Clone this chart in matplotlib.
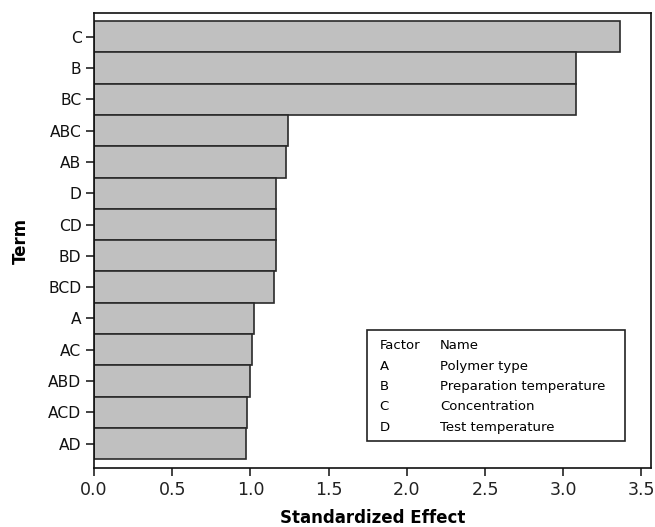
import matplotlib
matplotlib.use("Agg")
import matplotlib.pyplot as plt
from matplotlib.patches import Rectangle

terms = ["C", "B", "BC", "ABC", "AB", "D", "CD", "BD", "BCD", "A", "AC", "ABD", "ACD", "AD"]
effects = [3.363, 3.08, 3.08, 1.242, 1.228, 1.162, 1.162, 1.162, 1.153, 1.025, 1.012, 0.999, 0.978, 0.970]
x_ticks = [0.0, 0.5, 1.0, 1.5, 2.0, 2.5, 3.0, 3.5]
factor_codes = ["A", "B", "C", "D"]
factor_names = ["Polymer type", "Preparation temperature", "Concentration", "Test temperature"]

plt.rcParams['font.family'] = ['DejaVu Sans']
fig = plt.figure(figsize=(6.55, 5.27), dpi=100)
ax = fig.add_axes([94/655, 1-468/527, (651-94)/655, (468-13)/527])

ax.barh(range(len(terms)), effects, height=1.0, color="#c0c0c0",
        edgecolor="#2a2a2a", linewidth=1.2)
ax.set_yticks(range(len(terms)))
ax.set_yticklabels(terms, fontsize=11.2, color="#111111")
ax.set_ylim(13.78, -0.76)
ax.set_xlim(0, 3.561)
ax.set_xticks(x_ticks)
ax.set_xticklabels([f"{v:.1f}" for v in x_ticks], fontsize=12.5, color="#222222")
ax.tick_params(axis="both", direction="out", length=6, width=1.2, color="#222222")
ax.tick_params(axis="y", pad=3)
for s in ax.spines.values():
    s.set_linewidth(1.2)
    s.set_color("#111111")
ax.set_xlabel("Standardized Effect", fontsize=12, fontweight="bold", labelpad=7)
ax.set_ylabel("Term", fontsize=12, fontweight="bold", labelpad=13)

# Factor legend box
ax.add_patch(Rectangle((0.490, 0.059), 0.463, 0.244, transform=ax.transAxes,
                       fill=False, edgecolor="#222222", linewidth=1.2, zorder=5))
rows_y = [0.270, 0.224, 0.180, 0.136, 0.090]
ax.text(0.513, rows_y[0], "Factor", transform=ax.transAxes, fontsize=9.5, va="center")
ax.text(0.621, rows_y[0], "Name", transform=ax.transAxes, fontsize=9.5, va="center")
for code, name, y in zip(factor_codes, factor_names, rows_y[1:]):
    ax.text(0.513, y, code, transform=ax.transAxes, fontsize=9.5, va="center")
    ax.text(0.621, y, name, transform=ax.transAxes, fontsize=9.5, va="center")

fig.savefig("out.png", dpi=100)
